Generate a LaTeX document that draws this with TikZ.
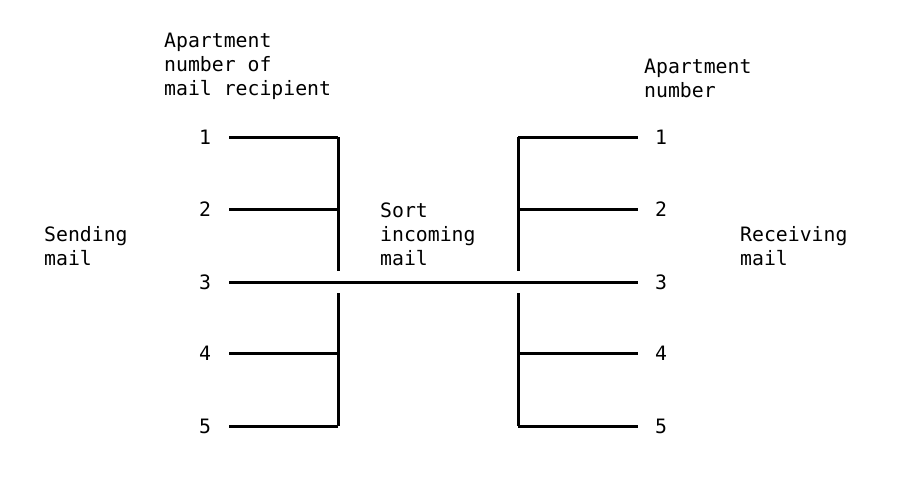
\documentclass[tikz,border=0pt]{standalone}
\usepackage{fontspec}
\setmonofont{DejaVu Sans Mono}
\begin{document}
\begin{tikzpicture}[x=1pt,y=-1pt,
  txt/.style={font=\ttfamily\fontsize{19.8}{24}\selectfont, inner sep=0pt, align=left, anchor=west},
  num/.style={font=\ttfamily\fontsize{19.8}{24}\selectfont, inner sep=0pt},
  wire/.style={line width=3pt}]
\useasboundingbox (0,0) rectangle (902,488);
% labels
\node[txt] (recip) at (164,66) {Apartment\\number of\\mail recipient};
\node[txt] (aptnum) at (644,78) {Apartment\\number};
\node[txt] (send) at (44,246) {Sending\\mail};
\node[txt] (sort) at (380,234) {Sort\\incoming\\mail};
\node[txt] (recv) at (740,246) {Receiving\\mail};
% numbers
\foreach \i/\y in {1/137,2/209,3/282,4/353,5/426}{
  \node[num] (ln\i) at (205,\y) {\i};
  \node[num] (rn\i) at (661,\y) {\i};
  \coordinate (la\i) at (229,\y);
  \coordinate (lj\i) at (338,\y);
  \coordinate (rj\i) at (518,\y);
  \coordinate (ra\i) at (638,\y);
}
\coordinate (lgt) at (338,271);
\coordinate (lgb) at (338,293);
\coordinate (rgt) at (518,271);
\coordinate (rgb) at (518,293);
% horizontal wires
\foreach \i in {1,2,4,5}{
  \draw[wire] (la\i) -- (lj\i);
  \draw[wire] (rj\i) -- (ra\i);
}
\draw[wire] (la3) -- (ra3);
% vertical wires
\draw[wire] (lj1) -- (lgt);
\draw[wire] (lgb) -- (lj5);
\draw[wire] (rj1) -- (rgt);
\draw[wire] (rgb) -- (rj5);
\end{tikzpicture}
\end{document}
